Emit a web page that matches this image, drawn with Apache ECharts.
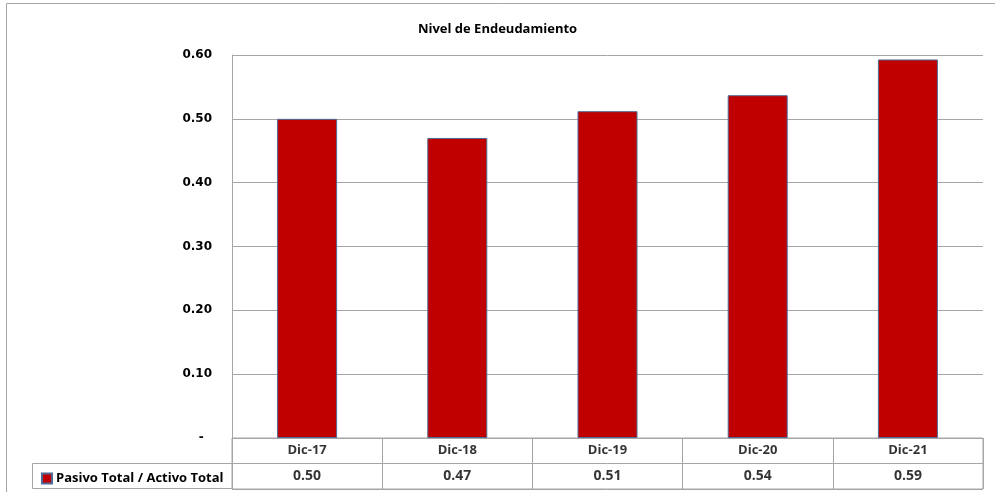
<!DOCTYPE html>
<html>
<head>
<meta charset="utf-8">
<script src="https://cdn.jsdelivr.net/npm/echarts@6/dist/echarts.min.js"></script>
<style>
  html, body { margin: 0; padding: 0; background: #fff; }
  #main { width: 995px; height: 492px; }
</style>
</head>
<body>
<div id="main"></div>
<script>
// datos del grafico
var categories = ['Dic-17', 'Dic-18', 'Dic-19', 'Dic-20', 'Dic-21'];
var values = [0.50, 0.47, 0.512, 0.537, 0.593];
var seriesName = 'Pasivo Total / Activo Total';

var lineGray = '#a6a6a6';
var tableFont = 'Open Sans';

var chart = echarts.init(document.getElementById('main'));

var option = {
  animation: false,
  title: {
    text: 'Nivel de Endeudamiento',
    left: 'center',
    top: 18,
    textStyle: { fontFamily: tableFont, fontSize: 13, fontWeight: 'bold', color: '#000' }
  },
  legend: {
    data: [seriesName],
    left: 36,
    top: 467,
    icon: 'rect',
    itemWidth: 10,
    itemHeight: 10,
    itemGap: 4,
    textStyle: { fontFamily: tableFont, fontSize: 13, fontWeight: 'bold', color: '#000', padding: [0, 0, 0, -1] }
  },
  grid: [
    { left: 232, right: 12, top: 55, bottom: 54 },
    { left: 232, right: 12, top: 438, height: 51, show: true, borderColor: lineGray, borderWidth: 1 }
  ],
  xAxis: [
    {
      gridIndex: 0, type: 'category', data: categories,
      axisLine: { show: false }, axisTick: { show: false }, axisLabel: { show: false }
    },
    {
      gridIndex: 1, type: 'category', data: categories,
      axisLine: { show: false }, axisTick: { show: false }, axisLabel: { show: false },
      splitLine: { show: true, lineStyle: { color: lineGray } }
    }
  ],
  yAxis: [
    {
      gridIndex: 0, type: 'value', min: 0, max: 0.6, interval: 0.1,
      axisLine: { show: true, lineStyle: { color: lineGray } },
      axisTick: { show: false },
      splitLine: { lineStyle: { color: lineGray } },
      axisLabel: {
        margin: 20,
        fontFamily: 'DejaVu Sans', fontSize: 12, fontWeight: 'bold', color: '#000',
        formatter: function (v) { return v === 0 ? '-  ' : v.toFixed(2); }
      }
    },
    {
      gridIndex: 1, type: 'value', min: 0, max: 2, interval: 1,
      axisLine: { show: false }, axisTick: { show: false }, axisLabel: { show: false },
      splitLine: { lineStyle: { color: lineGray } }
    }
  ],
  series: [
    {
      name: seriesName,
      type: 'bar',
      xAxisIndex: 0, yAxisIndex: 0,
      barWidth: 60,
      data: values,
      itemStyle: { color: '#c00000', borderColor: '#4f6b95', borderWidth: 1 }
    },
    {
      type: 'scatter',
      xAxisIndex: 1, yAxisIndex: 1,
      symbolSize: 0,
      silent: true,
      data: categories.map(function (c) { return [c, 1.5]; }),
      label: {
        show: true, position: 'inside',
        fontFamily: tableFont, fontSize: 13, fontWeight: 'bold', color: '#000',
        formatter: function (p) { return p.value[0]; }
      }
    },
    {
      type: 'scatter',
      xAxisIndex: 1, yAxisIndex: 1,
      symbolSize: 0,
      silent: true,
      data: categories.map(function (c, i) { return [c, 0.5, values[i]]; }),
      label: {
        show: true, position: 'inside',
        fontFamily: tableFont, fontSize: 14, fontWeight: 'bold', color: '#000',
        formatter: function (p) { return p.value[2].toFixed(2); }
      }
    }
  ],
  graphic: [
    {
      type: 'rect', silent: true, z: -1,
      shape: { x: 6.5, y: 3.5, width: 1000, height: 500 },
      style: { fill: null, stroke: lineGray, lineWidth: 1 }
    },
    {
      type: 'rect', silent: true,
      shape: { x: 32.5, y: 463.5, width: 200, height: 25 },
      style: { fill: null, stroke: lineGray, lineWidth: 1 }
    }
  ]
};

chart.setOption(option);
</script>
</body>
</html>
